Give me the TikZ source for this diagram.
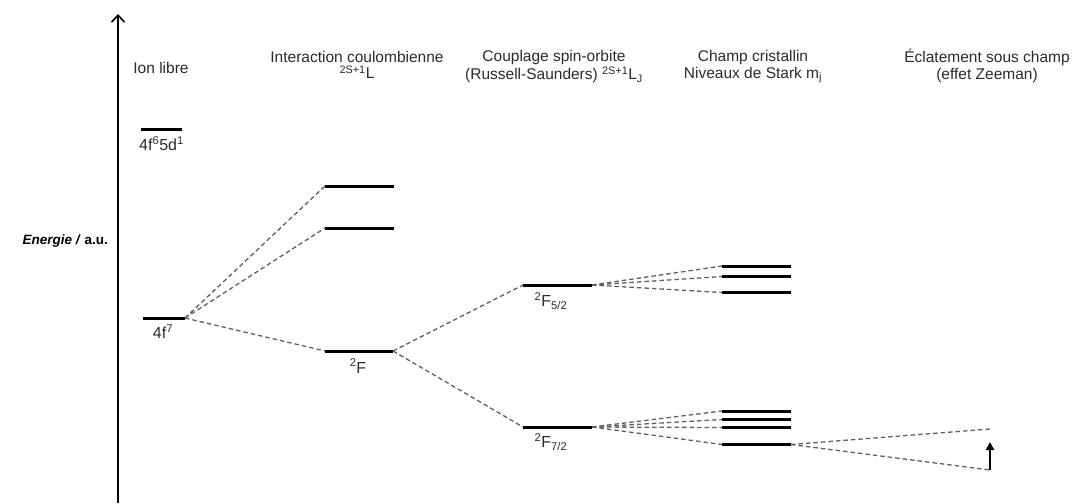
\documentclass[tikz,border=0pt]{standalone}
\usepackage{fontspec}
\setmainfont{Liberation Sans}
\usetikzlibrary{arrows.meta}
\definecolor{txt}{HTML}{2A2A2A}
\definecolor{dsh}{HTML}{606060}
\begin{document}
\begin{tikzpicture}[x=1pt,y=-1pt,
  lvl/.style={line width=3pt},
  conn/.style={dsh,line width=1.3pt,dash pattern=on 4.5pt off 3pt},
  ttl/.style={text=txt,font=\fontsize{15.5}{18}\selectfont,inner sep=0pt,align=center},
  lab/.style={text=txt,font=\fontsize{16}{18}\selectfont,inner sep=0pt}]
\useasboundingbox (0,0) rectangle (1075,503);
% axis
\coordinate (ax0) at (118,503);
\coordinate (ax1) at (118,14);
\draw[line width=2pt,-{Straight Barb[length=7pt,width=13pt,line width=1.6pt]}] (ax0) -- (ax1);
\node[inner sep=0pt,anchor=east,font=\fontsize{13.5}{16}\selectfont\bfseries] (en) at (108,241) {\textit{Energie /} a.u.};
% titles
\node[ttl] (t1) at (161,68) {Ion libre};
\node[ttl] (t2) at (357,57) {Interaction coulombienne};
\node[ttl] (t2b) at (357,72) {\textsuperscript{2S+1}L};
\node[ttl] (t3) at (554,57) {Couplage spin-orbite};
\node[ttl] (t3b) at (554,75) {(Russell-Saunders) \textsuperscript{2S+1}L\textsubscript{J}};
\node[ttl] (t4) at (753,57) {Champ cristallin};
\node[ttl] (t4b) at (753,75) {Niveaux de Stark m\textsubscript{j}};
\node[ttl] (t5) at (987,57) {Éclatement sous champ};
\node[ttl] (t5b) at (987,75) {(effet Zeeman)};
% levels: free ion
\coordinate (dL) at (141,129); \coordinate (dR) at (182,129);
\coordinate (aL) at (143,318); \coordinate (aR) at (185,318);
% coulomb
\coordinate (c1L) at (325,186); \coordinate (c1R) at (394,186);
\coordinate (c2L) at (325,228); \coordinate (c2R) at (394,228);
\coordinate (c3L) at (325,351); \coordinate (c3R) at (393,351);
% spin-orbit
\coordinate (s1L) at (523,285); \coordinate (s1R) at (592,285);
\coordinate (s2L) at (523,427); \coordinate (s2R) at (592,427);
% stark
\coordinate (k1L) at (722,266); \coordinate (k1R) at (791,266);
\coordinate (k2L) at (722,276.5); \coordinate (k2R) at (791,276.5);
\coordinate (k3L) at (722,292.5); \coordinate (k3R) at (791,292.5);
\coordinate (k4L) at (722,411); \coordinate (k4R) at (791,411);
\coordinate (k5L) at (722,419.5); \coordinate (k5R) at (791,419.5);
\coordinate (k6L) at (722,427.5); \coordinate (k6R) at (791,427.5);
\coordinate (k7L) at (722,444.5); \coordinate (k7R) at (791,444.5);
% zeeman
\coordinate (z1) at (990,429);
\coordinate (z2) at (990,470);
\coordinate (zt) at (990,442);
\foreach \n in {d,a,c1,c2,c3,s1,s2,k1,k2,k3,k4,k5,k6,k7}
  \draw[lvl] (\n L) -- (\n R);
% labels
\node[lab] (ld) at (161.5,144) {4f\textsuperscript{6}5d\textsuperscript{1}};
\node[lab] (la) at (163,332) {4f\textsuperscript{7}};
\node[lab] (lc) at (358,366) {\textsuperscript{2}F};
\node[lab] (ls1) at (551,301) {\textsuperscript{2}F\textsubscript{5/2}};
\node[lab] (ls2) at (551,442) {\textsuperscript{2}F\textsubscript{7/2}};
% connectors
\draw[conn] (aR) -- (c1L);
\draw[conn] (aR) -- (c2L);
\draw[conn] (aR) -- (c3L);
\draw[conn] (c3R) -- (s1L);
\draw[conn] (c3R) -- (s2L);
\draw[conn] (s1R) -- (k1L);
\draw[conn] (s1R) -- (k2L);
\draw[conn] (s1R) -- (k3L);
\draw[conn] (s2R) -- (k4L);
\draw[conn] (s2R) -- (k5L);
\draw[conn] (s2R) -- (k6L);
\draw[conn] (s2R) -- (k7L);
\draw[conn] (k7R) -- (z1);
\draw[conn] (k7R) -- (z2);
\draw[line width=2.2pt,-{Triangle[length=8pt,width=8pt]}] (z2) -- (zt);
\end{tikzpicture}
\end{document}
